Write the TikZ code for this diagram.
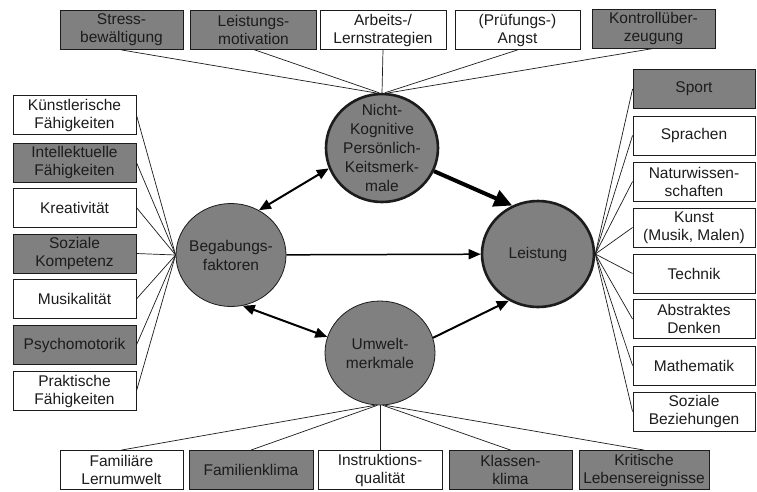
\documentclass[tikz,border=0pt]{standalone}
\usepackage{fontspec}
\setmainfont{Liberation Sans}
\usetikzlibrary{shapes.geometric,arrows.meta}
\definecolor{fillgray}{RGB}{128,128,128}
\definecolor{ink}{RGB}{28,28,28}

\begin{document}
\begin{tikzpicture}[x=1pt,y=-1pt,
  every node/.style={font=\fontsize{15.5}{18}\selectfont, text=ink},
  box/.style={draw=ink, line width=0.9pt, minimum width=123pt, minimum height=39pt,
              align=center, inner sep=0pt},
  darkbox/.style={box, fill=fillgray},
  lightbox/.style={box, fill=white},
  ell/.style={ellipse, draw=ink, fill=fillgray, inner sep=0pt},
  fan/.style={draw=ink, line width=0.7pt},
  link/.style={draw=black, >={Triangle[length=12pt,width=10pt]}},
  ctext/.style={align=center, font=\fontsize{15.5}{19}\selectfont}
]
\useasboundingbox[fill=white] (0,0) rectangle (757,491);

% central factors
\node[ell, minimum width=112pt, minimum height=108pt, line width=2.6pt] (nk) at (382,148) {};
\node[ctext] at (nk) {Nicht-\\Kognitive\\Persönlich-\\Keitsmerk-\\male};
\node[ell, minimum width=110pt, minimum height=103pt, line width=0.8pt] (beg) at (231,255) {};
\node[ctext] at (beg) {Begabungs-\\faktoren};
\node[ell, minimum width=112pt, minimum height=106pt, line width=2.6pt] (lei) at (538,254) {};
\node[ctext] at (lei) {Leistung};
\node[ell, minimum width=110pt, minimum height=104pt, line width=0.8pt] (umw) at (380,353) {};
\node[ctext] at (umw) {Umwelt-\\merkmale};

% top row: non-cognitive traits
\node[darkbox]  (t1) at (121.5,30) {Stress-\\bewältigung};
\node[darkbox, minimum width=126pt]  (t2) at (253.5,29.5) {Leistungs-\\motivation};
\node[lightbox, minimum width=126pt] (t3) at (383,30) {Arbeits-/\\Lernstrategien};
\node[lightbox, minimum width=125pt] (t4) at (517.5,30) {(Prüfungs-)\\Angst};
\node[darkbox]  (t5) at (653.5,28.5) {Kontrollüber-\\zeugung};

% left column: abilities
\node[lightbox] (l1) at (74.5,115)   {Künstlerische\\Fähigkeiten};
\node[darkbox]  (l2) at (74.5,162.5) {Intellektuelle\\Fähigkeiten};
\node[lightbox] (l3) at (74.5,207.5) {Kreativität};
\node[darkbox]  (l4) at (74.5,253.5) {Soziale\\Kompetenz};
\node[lightbox] (l5) at (74.5,299)   {Musikalität};
\node[darkbox]  (l6) at (74.5,345)   {Psychomotorik};
\node[lightbox] (l7) at (74.5,391)   {Praktische\\Fähigkeiten};

% right column: performance domains
\node[darkbox, minimum width=122pt]  (r1) at (694,89)    {Sport};
\node[lightbox, minimum width=122pt] (r2) at (694,135.5) {Sprachen};
\node[lightbox, minimum width=122pt] (r3) at (694,181.5) {Naturwissen-\\schaften};
\node[lightbox, minimum width=122pt] (r4) at (694,227.5) {Kunst\\(Musik, Malen)};
\node[lightbox, minimum width=122pt] (r5) at (694,273.5) {Technik};
\node[lightbox, minimum width=122pt] (r6) at (694,319)   {Abstraktes\\Denken};
\node[lightbox, minimum width=122pt] (r7) at (694,365.5) {Mathematik};
\node[lightbox, minimum width=122pt] (r8) at (694,411.5) {Soziale\\Beziehungen};

% bottom row: environment
\node[lightbox] (b1) at (121.5,470) {Familiäre\\Lernumwelt};
\node[darkbox, minimum width=124pt]  (b2) at (251,470)   {Familienklima};
\node[lightbox, minimum width=124pt] (b3) at (380,470)   {Instruktions-\\qualität};
\node[darkbox]  (b4) at (510.5,470) {Klassen-\\klima};
\node[darkbox, minimum width=130pt]  (b5) at (644,470)   {Kritische\\Lebensereignisse};

% fans
\foreach \n/\a in {t1/96, t2/93, t4/87, t5/84} \draw[fan] (\n.south) -- (nk.\a);
\draw[fan] (t3.south) -- (nk.north);
\foreach \n in {l1,l2,l3,l4,l5,l6,l7} \draw[fan] (\n.east) -- (beg.west);
\foreach \n in {r1,r2,r3,r4,r5,r6,r7,r8} \draw[fan] (lei.east) -- (\n.west);
\foreach \n/\a in {b1/-95, b2/-93, b4/-87, b5/-85} \draw[fan] (umw.\a) -- (\n.north);
\draw[fan] (umw.south) -- (b3.north);

% relations between the factors
\draw[link, <->, line width=2pt] (beg.58) -- (nk.201);
\draw[link, <->, line width=2pt] (beg.-77) -- (umw.163);
\draw[link, ->, line width=1.5pt] (beg) -- (lei);
\draw[link, ->, line width=2pt] (umw.16) -- (lei.238);
\draw[draw=black, line width=4pt, -{Triangle[length=18pt,width=17pt]}] (nk.-24) -- (lei.118);
\end{tikzpicture}
\end{document}
